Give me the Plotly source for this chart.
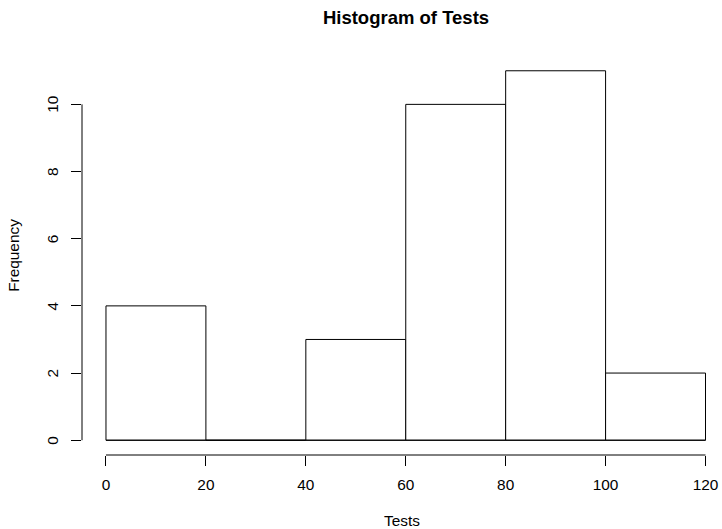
import plotly.graph_objects as go

# Histogram bins (Tests scores) and their counts
bin_edges = [0, 20, 40, 60, 80, 100, 120]
counts = [4, 0, 3, 10, 11, 2]
x_ticks = [0, 20, 40, 60, 80, 100, 120]
y_ticks = [0, 2, 4, 6, 8, 10]

centers = [(a + b) / 2 for a, b in zip(bin_edges[:-1], bin_edges[1:])]
widths = [b - a for a, b in zip(bin_edges[:-1], bin_edges[1:])]

W, H = 722, 529
FONT = "Liberation Sans, Arial, Helvetica, sans-serif"
BASE = 15.4

# R-style 4% padding on both axes
xlo, xhi = bin_edges[0], bin_edges[-1]
ylo, yhi = 0, max(counts)
xpad = 0.04 * (xhi - xlo)
ypad = 0.04 * (yhi - ylo)

left, top, bottom = 81.5, 55.6, 74.2
px_per_x = 5.0
plot_w = W - left
x_range = [xlo - xpad, xlo - xpad + plot_w / px_per_x]

fig = go.Figure(
    go.Bar(
        x=centers,
        y=counts,
        width=widths,
        marker=dict(color="white", line=dict(color="black", width=1)),
        hoverinfo="skip",
    )
)

# Baseline for empty bins, drawn at y = 0 across the bin range
fig.add_shape(type="line", xref="x", yref="y", x0=xlo, x1=xhi, y0=0, y1=0,
              line=dict(color="black", width=1), layer="above")
# Axis lines spanning only the tick range
fig.add_shape(type="line", xref="x", yref="paper", x0=x_ticks[0], x1=x_ticks[-1],
              y0=0, y1=0, line=dict(color="black", width=1))
fig.add_shape(type="line", xref="paper", yref="y", x0=0, x1=0,
              y0=y_ticks[0], y1=y_ticks[-1], line=dict(color="black", width=1))

# Vertical (rotated) y tick labels placed at each tick value
for v in y_ticks:
    fig.add_annotation(
        x=0, xref="paper", y=v, yref="y",
        text=str(v), textangle=-90, showarrow=False,
        xanchor="center", yanchor="middle", xshift=-29.5,
        font=dict(family=FONT, size=BASE, color="black"),
    )

fig.update_layout(
    width=W,
    height=H,
    margin=dict(l=left, r=0, t=top, b=bottom, pad=0),
    paper_bgcolor="white",
    plot_bgcolor="white",
    showlegend=False,
    font=dict(family=FONT, size=BASE, color="black"),
    title=dict(
        text="<b>Histogram of Tests</b>",
        font=dict(family=FONT, size=18.5, color="black"),
        xref="container", yref="container",
        x=406 / W, xanchor="center",
        y=1 - 18 / H, yanchor="middle",
    ),
    xaxis=dict(
        range=x_range,
        tickmode="array", tickvals=x_ticks, ticktext=[str(v) for v in x_ticks],
        ticks="outside", ticklen=10, tickwidth=1, tickcolor="black",
        ticklabelstandoff=6,
        showline=False, showgrid=False, zeroline=False,
        tickfont=dict(family=FONT, size=BASE),
        title=dict(text="Tests", font=dict(family=FONT, size=BASE), standoff=23),
    ),
    yaxis=dict(
        range=[ylo - ypad, yhi + ypad],
        tickmode="array", tickvals=y_ticks,
        ticks="outside", ticklen=10, tickwidth=1, tickcolor="black",
        showticklabels=False,
        showline=False, showgrid=False, zeroline=False,
        title=dict(text="Frequency", font=dict(family=FONT, size=BASE), standoff=47),
    ),
)

fig.write_html("out.html")
